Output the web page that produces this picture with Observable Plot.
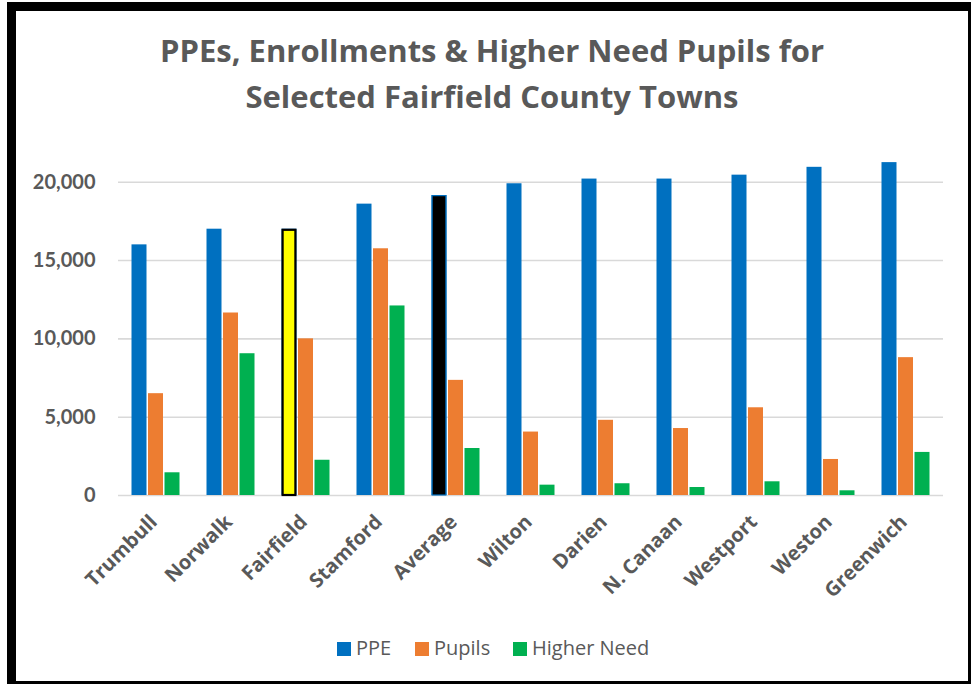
<!DOCTYPE html>
<html>
<head>
<meta charset="utf-8">
<script src="https://cdn.jsdelivr.net/npm/d3@7"></script>
<script src="https://cdn.jsdelivr.net/npm/@observablehq/plot@0.6"></script>
<style>
  html, body { margin: 0; padding: 0; background: #fff; }
  body { width: 971px; height: 684px; overflow: hidden; position: relative; font-family: "Open Sans", Lato, sans-serif; }
  #chart { position: absolute; left: 0; top: 0; }
  .title { position: absolute; left: 0; width: 984px; text-align: center; font-weight: bold; font-size: 31px; line-height: 36px; color: #595959; white-space: nowrap; font-family: "Open Sans", sans-serif; }
  .legend { position: absolute; top: 636px; left: 0; width: 971px; height: 24px; }
  .legend span.item { position: absolute; top: 0; font-size: 20px; color: #595959; line-height: 24px; white-space: nowrap; font-family: "Open Sans", sans-serif; }
  .legend i { display: inline-block; width: 14px; height: 14px; vertical-align: -1px; margin-right: 5px; }
  .frame { position: absolute; background: #000; }
</style>
</head>
<body>
<div class="title" style="top:32px">PPEs, Enrollments &amp; Higher Need Pupils for</div>
<div class="title" style="top:78px">Selected Fairfield County Towns</div>
<div id="chart"></div>
<div class="legend" id="legend"></div>
<div class="frame" style="left:7px;top:2px;width:9px;height:690px"></div>
<div class="frame" style="left:7px;top:2px;width:970px;height:9px"></div>
<div class="frame" style="left:968px;top:2px;width:9px;height:690px"></div>
<div class="frame" style="left:7px;top:681px;width:970px;height:9px"></div>
<script>
const towns = ["Trumbull", "Norwalk", "Fairfield", "Stamford", "Average", "Wilton", "Darien", "N. Canaan", "Westport", "Weston", "Greenwich"];
const seriesNames = ["PPE", "Pupils", "Higher Need"];
const seriesColors = ["#0070C0", "#ED7D31", "#00B050"];
const ppe = [16000, 17000, 17000, 18600, 19150, 19900, 20200, 20200, 20450, 20950, 21250];
const pupils = [6500, 11650, 10000, 15750, 7350, 4050, 4800, 4275, 5600, 2300, 8800];
const higherNeed = [1450, 9050, 2250, 12100, 3000, 660, 750, 510, 875, 300, 2750];
const yTicks = [0, 5000, 10000, 15000, 20000];

const valuesBySeries = [ppe, pupils, higherNeed];
const rows = [];
seriesNames.forEach((s, si) => towns.forEach((t, ti) => rows.push({town: t, series: s, value: valuesBySeries[si][ti]})));

const offsets = {"PPE": -16.5, "Pupils": 0, "Higher Need": 16.5};
const inset = 30;

const barMarks = seriesNames.map(s => Plot.barY(rows.filter(d => d.series === s), {
  x: "town", y: "value", fill: "series", dx: offsets[s], insetLeft: inset, insetRight: inset
}));

const fairfieldPPE = rows.filter(d => d.series === "PPE" && d.town === "Fairfield");
const averagePPE = rows.filter(d => d.series === "PPE" && d.town === "Average");

const fmt = d3.format(",");

const chart = Plot.plot({
  width: 971,
  height: 684,
  marginTop: 181.7,
  marginBottom: 189,
  marginLeft: 118,
  marginRight: 28,
  style: {fontFamily: "Lato, 'Open Sans', sans-serif", background: "transparent", overflow: "visible"},
  x: {domain: towns, padding: 0, label: null, tickSize: 0, tickRotate: -45, tickPadding: 21},
  y: {domain: [0, 20000], ticks: yTicks, tickFormat: d => fmt(d), label: null, tickSize: 0, tickPadding: 23},
  color: {domain: seriesNames, range: seriesColors},
  marks: [
    Plot.ruleY(yTicks, {stroke: "#D9D9D9", strokeWidth: 1.6}),
    ...barMarks,
    Plot.barY(fairfieldPPE, {x: "town", y: "value", fill: "#FFFF00", stroke: "#000", strokeWidth: 2.2, dx: offsets["PPE"], insetLeft: inset + 1.1, insetRight: inset + 1.1, insetTop: 1.1}),
    Plot.barY(averagePPE, {x: "town", y: "value", fill: "#000", stroke: "#0070C0", strokeWidth: 1.2, dx: offsets["PPE"], insetLeft: inset + 0.6, insetRight: inset + 0.6, insetTop: 0.6})
  ]
});
document.getElementById("chart").appendChild(chart);

// style axis text
d3.select(chart).selectAll("[aria-label='y-axis tick label'] text, [aria-label='y-axis'] text")
  .attr("font-size", 20).attr("font-weight", "bold").attr("fill", "#595959").attr("font-family", "Lato, sans-serif");
d3.select(chart).selectAll("[aria-label='x-axis tick label'] text, [aria-label='x-axis'] text")
  .attr("font-size", 20).attr("font-weight", "bold").attr("fill", "#595959").attr("font-family", "'Open Sans', sans-serif")
  .attr("dx", -3);

// legend
const legendX = [337, 415, 513];
const legend = document.getElementById("legend");
seriesNames.forEach((s, i) => {
  const item = document.createElement("span");
  item.className = "item";
  item.style.left = legendX[i] + "px";
  const sw = document.createElement("i");
  sw.style.background = seriesColors[i];
  item.appendChild(sw);
  item.appendChild(document.createTextNode(s));
  legend.appendChild(item);
});
</script>
</body>
</html>
